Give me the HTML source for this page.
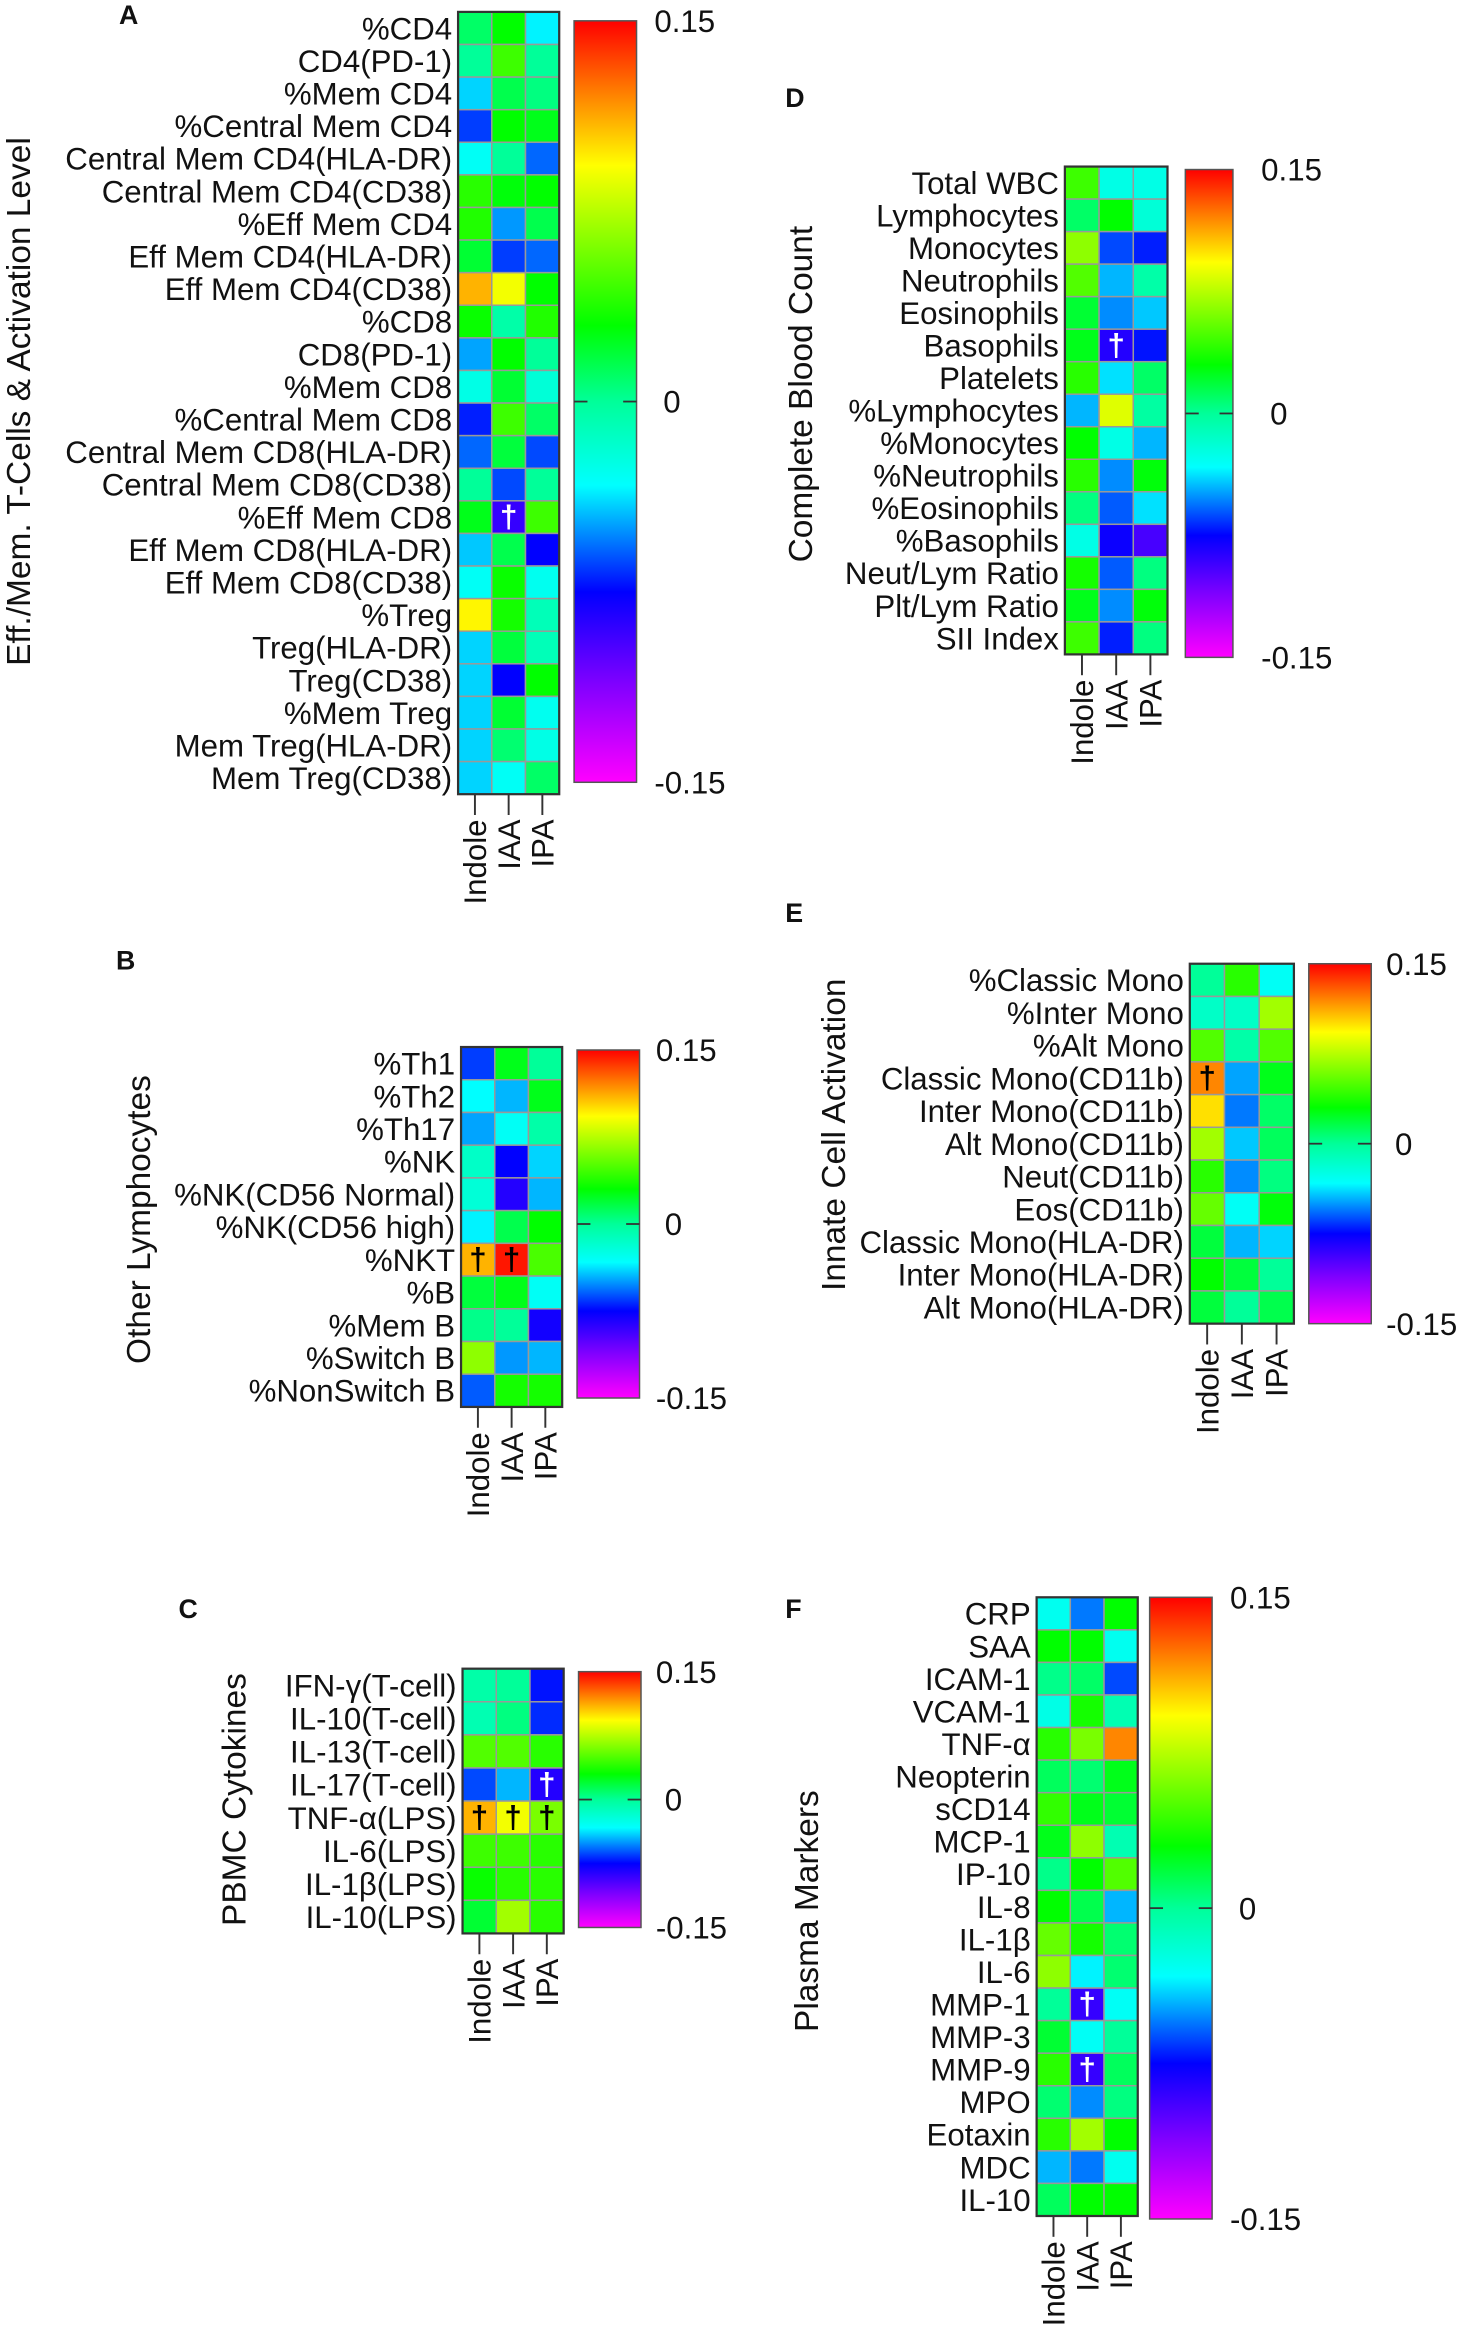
<!DOCTYPE html>
<html><head><meta charset="utf-8"><style>
html,body{margin:0;padding:0;background:#fff;}
svg{display:block;}
text{font-family:"Liberation Sans",sans-serif;}
</style></head><body>
<svg id="fig" width="1459" height="2332" viewBox="0 0 981 1568" xmlns="http://www.w3.org/2000/svg">
<defs>
<linearGradient id="cbgrad" x1="0" y1="0" x2="0" y2="1">
<stop offset="0" stop-color="#ff0000"/>
<stop offset="0.19" stop-color="#ffff00"/>
<stop offset="0.40" stop-color="#00ff00"/>
<stop offset="0.50" stop-color="#00ff99"/>
<stop offset="0.61" stop-color="#00ffff"/>
<stop offset="0.75" stop-color="#0000ff"/>
<stop offset="0.87" stop-color="#7f00ff"/>
<stop offset="1" stop-color="#ff00ff"/>
</linearGradient>
</defs>
</svg>
<script>
const groups = ["Indole","IAA","IPA"];
const rowsA = ["%CD4","CD4(PD-1)","%Mem CD4","%Central Mem CD4","Central Mem CD4(HLA-DR)","Central Mem CD4(CD38)","%Eff Mem CD4","Eff Mem CD4(HLA-DR)","Eff Mem CD4(CD38)","%CD8","CD8(PD-1)","%Mem CD8","%Central Mem CD8","Central Mem CD8(HLA-DR)","Central Mem CD8(CD38)","%Eff Mem CD8","Eff Mem CD8(HLA-DR)","Eff Mem CD8(CD38)","%Treg","Treg(HLA-DR)","Treg(CD38)","%Mem Treg","Mem Treg(HLA-DR)","Mem Treg(CD38)"];
const valsA = [[0.01,0.03,-0.035],[0.0,0.045,0.0],[-0.04,0.015,0.005],[-0.065,0.03,0.025],[-0.03,0.0,-0.058],[0.04,0.028,0.03],[0.038,-0.05,0.015],[0.02,-0.065,-0.058],[0.11,0.09,0.03],[0.032,-0.005,0.038],[-0.048,0.03,0.0],[-0.025,0.02,-0.02],[-0.07,0.045,0.01],[-0.058,0.018,-0.063],[0.0,-0.063,0.0],[0.025,-0.09,0.045],[-0.042,0.015,-0.075],[-0.03,0.032,-0.028],[0.095,0.035,-0.01],[-0.04,0.018,-0.01],[-0.04,-0.075,0.03],[-0.04,0.02,-0.028],[-0.04,0.008,-0.025],[-0.04,-0.03,0.01]];
const sigA = [[15,1]];
const rowsB = ["%Th1","%Th2","%Th17","%NK","%NK(CD56 Normal)","%NK(CD56 high)","%NKT","%B","%Mem B","%Switch B","%NonSwitch B"];
const valsB = [[-0.065,0.025,0.0],[-0.033,-0.045,0.025],[-0.048,-0.03,-0.005],[-0.015,-0.075,-0.04],[-0.02,-0.085,-0.045],[-0.035,0.015,0.03],[0.11,0.145,0.048],[0.018,0.025,-0.03],[0.003,0.0,-0.08],[0.065,-0.05,-0.045],[-0.06,0.035,0.035]];
const sigB = [[6,0],[6,1]];
const rowsC = ["IFN-γ(T-cell)","IL-10(T-cell)","IL-13(T-cell)","IL-17(T-cell)","TNF-α(LPS)","IL-6(LPS)","IL-1β(LPS)","IL-10(LPS)"];
const valsC = [[-0.005,0.0,-0.072],[-0.008,0.005,-0.068],[0.05,0.05,0.04],[-0.063,-0.045,-0.085],[0.11,0.09,0.06],[0.045,0.045,0.04],[0.032,0.04,0.04],[0.02,0.07,0.04]];
const sigC = [[3,2],[4,0],[4,1],[4,2]];
const rowsD = ["Total WBC","Lymphocytes","Monocytes","Neutrophils","Eosinophils","Basophils","Platelets","%Lymphocytes","%Monocytes","%Neutrophils","%Eosinophils","%Basophils","Neut/Lym Ratio","Plt/Lym Ratio","SII Index"];
const valsD = [[0.045,-0.025,-0.025],[0.01,0.03,-0.02],[0.065,-0.063,-0.07],[0.05,-0.045,-0.005],[0.02,-0.052,-0.042],[0.025,-0.085,-0.072],[0.04,-0.038,0.01],[-0.045,0.085,-0.003],[0.03,-0.025,-0.045],[0.04,-0.052,0.028],[0.005,-0.06,-0.038],[-0.025,-0.078,-0.095],[0.035,-0.06,0.005],[0.025,-0.052,0.028],[0.045,-0.07,0.005]];
const sigD = [[5,1]];
const rowsE = ["%Classic Mono","%Inter Mono","%Alt Mono","Classic Mono(CD11b)","Inter Mono(CD11b)","Alt Mono(CD11b)","Neut(CD11b)","Eos(CD11b)","Classic Mono(HLA-DR)","Inter Mono(HLA-DR)","Alt Mono(HLA-DR)"];
const valsE = [[0.0,0.04,-0.03],[-0.015,-0.015,0.07],[0.05,-0.005,0.05],[0.12,-0.048,0.025],[0.1,-0.055,0.01],[0.07,-0.042,0.012],[0.04,-0.052,0.005],[0.055,-0.03,0.028],[0.018,-0.045,-0.04],[0.03,0.018,0.0],[0.018,0.0,0.015]];
const sigE = [[3,0]];
const rowsF = ["CRP","SAA","ICAM-1","VCAM-1","TNF-α","Neopterin","sCD14","MCP-1","IP-10","IL-8","IL-1β","IL-6","MMP-1","MMP-3","MMP-9","MPO","Eotaxin","MDC","IL-10"];
const valsF = [[-0.028,-0.055,0.03],[0.03,0.03,-0.028],[0.003,0.01,-0.063],[-0.025,0.035,-0.008],[0.04,0.06,0.12],[0.012,0.008,0.025],[0.042,0.025,0.02],[0.025,0.065,-0.008],[0.003,0.03,0.05],[0.03,0.015,-0.045],[0.055,0.035,0.008],[0.065,-0.035,0.008],[0.0,-0.09,-0.03],[0.02,-0.03,0.0],[0.04,-0.09,0.012],[0.008,-0.052,0.005],[0.04,0.07,0.03],[-0.045,-0.055,-0.028],[0.012,0.03,0.03]];
const sigF = [[12,1],[14,1]];
const tickLabels = ["0.15","0","-0.15"];
const vmax = 0.15, vmin = -0.15;

const NS = "http://www.w3.org/2000/svg";
const svg = document.getElementById('fig');
const stops = [[0,[255,0,0]],[0.19,[255,255,0]],[0.40,[0,255,0]],[0.50,[0,255,153]],[0.61,[0,255,255]],[0.75,[0,0,255]],[0.87,[127,0,255]],[1,[255,0,255]]];
function colorOf(v){
  let f = (vmax - v)/(vmax - vmin); f = Math.max(0,Math.min(1,f));
  for(let i=0;i<stops.length-1;i++){
    const a=stops[i],b=stops[i+1];
    if(f<=b[0]){const t=(f-a[0])/(b[0]-a[0]);
      const c=a[1].map((x,k)=>Math.round(x+(b[1][k]-x)*t));
      return `rgb(${c[0]},${c[1]},${c[2]})`;}
  }
  return "rgb(255,0,255)";
}
function darkness(v){const f=(vmax-v)/(vmax-vmin);return f>0.68;}
function mk(tag,attrs,parent){const e=document.createElementNS(NS,tag);for(const k in attrs)e.setAttribute(k,attrs[k]);(parent||svg).appendChild(e);return e;}
const FS = 21;

function panel(p){
  const g = mk('g',{});
  
  
  const n = p.rows.length, cw=(p.x1-p.x0)/3, rh=(p.y1-p.y0)/n;
  const xs = c => p.x0 + c*cw;
  const ys = r => p.y0 + r*rh;
  const L = mk('text',{x:p.lx,y:p.ly,'font-size':18,'font-weight':'bold',fill:'#111'},g); L.textContent=p.letter;
  
  
  const T = mk('text',{x:0,y:0,'font-size':22.5,'text-anchor':'middle',fill:'#111',transform:`translate(${p.tx},${p.ty}) rotate(-90)`},g); T.textContent=p.title;
  
  
  p.rows.forEach((name,r)=>{
    const t=mk('text',{x:p.x0-4,y:ys(r)+rh/2+7.5,'font-size':FS,'text-anchor':'end',fill:'#111'},g); t.textContent=name;
    
    
    p.vals[r].forEach((v,c)=>{
      const rc=mk('rect',{x:xs(c),y:ys(r),width:cw,height:rh,fill:colorOf(v),stroke:'#999','stroke-width':1},g);
      
      
    });
  });
  p.sig.forEach(([r,c])=>{
    const d=mk('text',{x:xs(c)+cw/2,y:ys(r)+rh/2+7,'font-size':21,'font-weight':'bold','text-anchor':'middle'},g); d.textContent='†';
    d.style.fill = darkness(p.vals[r][c])?'#fff':'#000';
    
    
  });
  mk('rect',{x:p.x0,y:p.y0,width:p.x1-p.x0,height:p.y1-p.y0,fill:'none',stroke:'#333','stroke-width':1.5},g);
  groups.forEach((gn,c)=>{
    const cx=xs(c)+cw/2;
    mk('line',{x1:cx,y1:p.y1,x2:cx,y2:p.y1+14,stroke:'#333','stroke-width':1.3},g);
    const t=mk('text',{x:0,y:0,'font-size':FS,'text-anchor':'end',fill:'#111',transform:`translate(${cx+7.5},${p.y1+17}) rotate(-90)`},g); t.textContent=gn;
    
    
  });
  const cb=mk('rect',{x:p.cx0,y:p.cy0,width:p.cx1-p.cx0,height:p.cy1-p.cy0,fill:'url(#cbgrad)',stroke:'#555','stroke-width':1},g);
  
  
  const cy = v => p.cy0 + (vmax - v)/(vmax - vmin)*(p.cy1-p.cy0);
  mk('line',{x1:p.cx0,y1:cy(0),x2:p.cx0+9,y2:cy(0),stroke:'#333','stroke-width':1.2},g);
  mk('line',{x1:p.cx1-9,y1:cy(0),x2:p.cx1,y2:cy(0),stroke:'#333','stroke-width':1.2},g);
  [vmax,0,vmin].forEach((v,i)=>{
    const t=mk('text',{x:p.tk+(i==1?6:0),y:cy(v)+7.5,'font-size':FS,fill:'#111'},g); t.textContent=tickLabels[i];
    
    
  });
}
panel({letter:'A',lx:80,ly:16,title:'Eff./Mem. T-Cells & Activation Level',tx:20,ty:270,rows:rowsA,vals:valsA,sig:sigA,x0:308,x1:376,y0:8,y1:534,cx0:386,cx1:428,cy0:14,cy1:526,tk:440});
panel({letter:'B',lx:78,ly:652,title:'Other Lymphocytes',tx:101,ty:820,rows:rowsB,vals:valsB,sig:sigB,x0:310,x1:378,y0:704,y1:946,cx0:388,cx1:430,cy0:706,cy1:940,tk:441});
panel({letter:'C',lx:120,ly:1088,title:'PBMC Cytokines',tx:165,ty:1210,rows:rowsC,vals:valsC,sig:sigC,x0:311,x1:379,y0:1122,y1:1300,cx0:389,cx1:431,cy0:1124,cy1:1296,tk:441});
panel({letter:'D',lx:528,ly:72,title:'Complete Blood Count',tx:546,ty:265,rows:rowsD,vals:valsD,sig:sigD,x0:716,x1:785,y0:112,y1:440,cx0:797,cx1:829,cy0:114,cy1:442,tk:848});
panel({letter:'E',lx:528,ly:620,title:'Innate Cell Activation',tx:568,ty:763,rows:rowsE,vals:valsE,sig:sigE,x0:800,x1:870,y0:648,y1:890,cx0:880,cx1:922,cy0:648,cy1:890,tk:932});
panel({letter:'F',lx:528,ly:1088,title:'Plasma Markers',tx:550,ty:1285,rows:rowsF,vals:valsF,sig:sigF,x0:697,x1:765,y0:1074,y1:1490,cx0:773,cx1:815,cy0:1074,cy1:1492,tk:827});
</script>
</body></html>
